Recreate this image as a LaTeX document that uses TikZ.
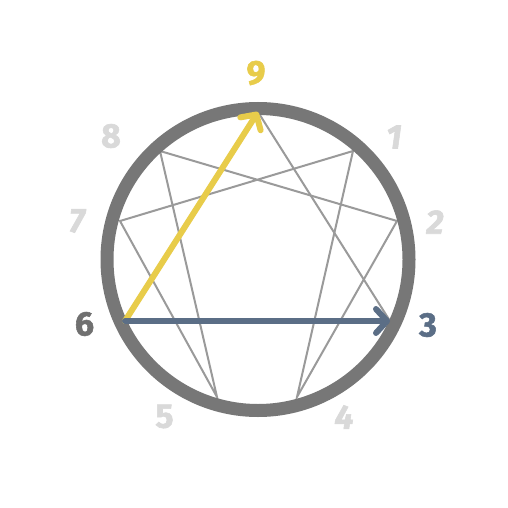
\documentclass[tikz,border=0pt]{standalone}
\usepackage{fontspec}
\setmainfont{Fira Sans}
\newfontfamily\labfont[FakeBold=1.6]{Fira Sans Bold}
\newfontfamily\labifont[FakeBold=1.6]{Fira Sans Bold Italic}
\usetikzlibrary{arrows.meta}
\definecolor{ringgray}{HTML}{777777}
\definecolor{linegray}{HTML}{9A9A9A}
\definecolor{lightlab}{HTML}{D9D9D9}
\definecolor{yel}{HTML}{E8CC4A}
\definecolor{blu}{HTML}{5B6E86}
\definecolor{darklab}{HTML}{707070}
\begin{document}
\begin{tikzpicture}[x=1pt,y=-1pt,
  lab/.style={font=\fontsize{34}{34}\labfont, inner sep=0pt},
  ilab/.style={lab, font=\fontsize{34}{34}\labifont},
  inner/.style={draw=linegray, line width=2pt},
  arr/.style={line width=6pt, line cap=round, -{Straight Barb[length=11pt,width=24pt,line cap=round,line join=round]}}]
\useasboundingbox (0,0) rectangle (508,508);
\fill[white] (0,0) rectangle (508,508);
% points
\coordinate (p9) at (258,112);
\coordinate (p1) at (353,151);
\coordinate (p2) at (397,221);
\coordinate (p3) at (390,321);
\coordinate (p4) at (297,397);
\coordinate (p5) at (217,397);
\coordinate (p6) at (125,321);
\coordinate (p7) at (120,221);
\coordinate (p8) at (160,151);
% inner lines
\draw[inner] (p9) -- (p3);
\draw[inner] (p1) -- (p4) -- (p2) -- (p8) -- (p5) -- (p7) -- (p1);
% ring
\draw[ringgray, line width=13pt] (258,259.5) circle[radius=151];
% arrows
\draw[arr, draw=yel] (p6) -- (p9);
\draw[arr, draw=blu] (p6) -- (p3);
% labels
\node[lab, text=yel] (l9) at (256,73) {9};
\node[ilab, text=lightlab] (l1) at (394,137) {1};
\node[ilab, text=lightlab] (l2) at (435,222) {2};
\node[lab, text=blu] (l3) at (428,325) {3};
\node[ilab, text=lightlab] (l4) at (344,417) {4};
\node[lab, text=lightlab] (l5) at (164.5,416.5) {5};
\node[lab, text=darklab] (l6) at (84.5,324) {6};
\node[ilab, text=lightlab] (l7) at (77,221) {7};
\node[lab, text=lightlab] (l8) at (111,136) {8};
\end{tikzpicture}
\end{document}
